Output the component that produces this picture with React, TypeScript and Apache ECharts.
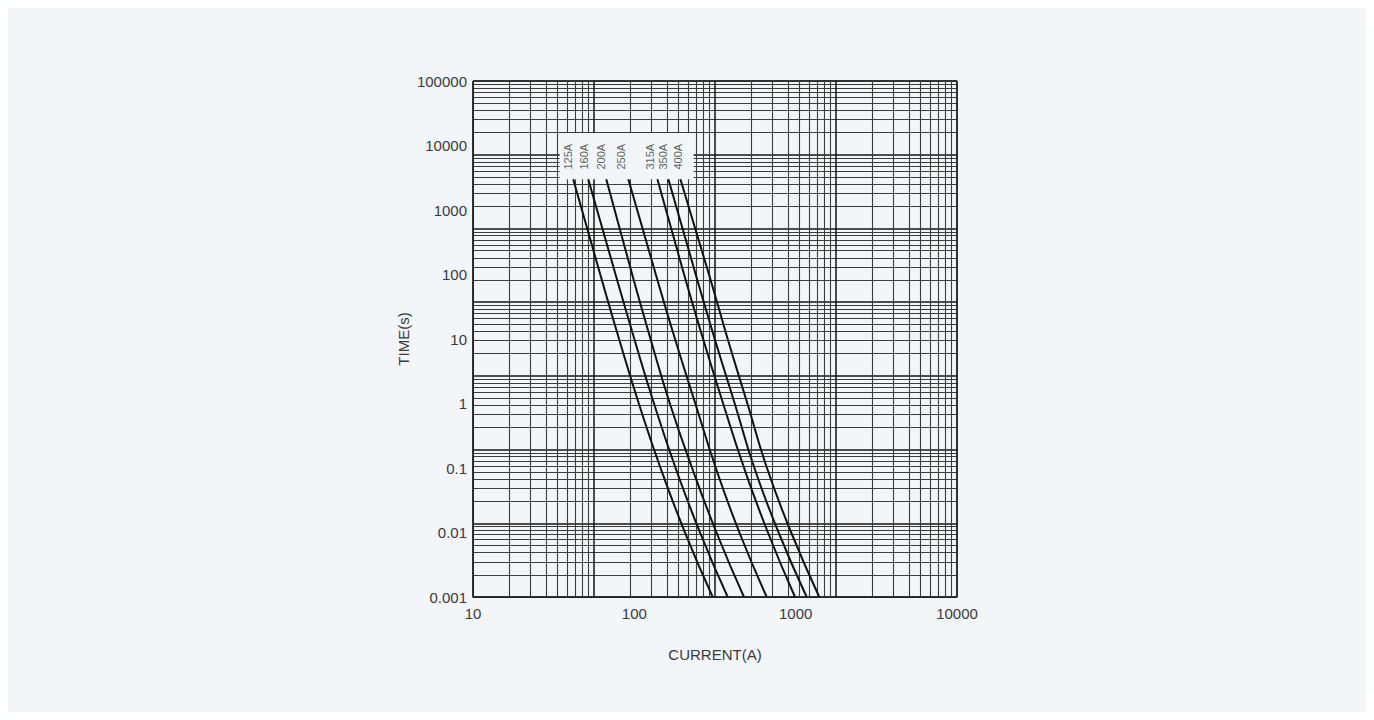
import React, { useEffect, useRef } from "react";
import * as echarts from "echarts";

// Tick labels of the labelled axes
const xTickLabels = ["10", "100", "1000", "10000"];
const yTickLabels = ["0.001", "0.01", "0.1", "1", "10", "100", "1000", "10000", "100000"];

// Curve labels
const curveLabels = ["125A", "160A", "200A", "250A", "315A", "350A", "400A"];

// Time values (s) at which each curve's current was read
const timePoints = [3000, 100, 10, 1, 0.1, 0.01, 0.001];

// Current values (A) of each curve at the time points above
const c125 = [41.8, 61.5, 80.4, 106.6, 145.3, 206.1, 306];
const c160 = [51.8, 76.5, 100, 132.4, 180.2, 255.3, 379];
const c200 = [67, 97, 126, 166, 228, 323, 478];
const c250 = [91.8, 135.9, 178.7, 238.8, 320, 448, 661.5];
const c315 = [139, 203.4, 266.9, 355, 479, 673, 990.6];
const c350 = [162.6, 240.2, 315, 419, 555, 784, 1170];
const c400 = [193, 290.3, 379, 502, 664, 938, 1401];
const curves = [c125, c160, c200, c250, c315, c350, c400];

// Label anchor points (current, time)
const labelCurrents = [38.97, 48.97, 62.8, 83.5, 125.1, 151.2, 187.3];
const labelTime = 4170;

// Label box corners (current, time)
const boxFrom = [34.5, 15600];
const boxTo = [233, 3000];

const BG = "#f3f6f9";
const FONT = "Liberation Sans, Arial, Helvetica, sans-serif";
const TXT = "#3a3a3a";

export default function App() {
  const ref = useRef<HTMLDivElement>(null);
  useEffect(() => {
    if (!ref.current) return;
    const chart = echarts.init(ref.current, undefined, { renderer: "svg" });
    const gridLine = { show: true, lineStyle: { color: "#151515", width: 1.5 } };
    const minorLine = { show: true, lineStyle: { color: "#3c3c3c", width: 1.1 } };
    const lineSeries = curves.map((c, i) => ({
      type: "line",
      name: curveLabels[i],
      xAxisIndex: 0,
      yAxisIndex: 0,
      data: c.map((v, j) => [v, timePoints[j]]),
      smooth: 0.5,
      symbol: "none",
      lineStyle: { color: "#111", width: 2 },
      z: 5,
      ...(i === 0
        ? {
            markArea: {
              silent: true,
              z: 3,
              itemStyle: { color: BG, opacity: 1 },
              data: [[{ coord: boxFrom }, { coord: boxTo }]],
            },
          }
        : {}),
    }));
    chart.setOption({
      animation: false,
      backgroundColor: BG,
      textStyle: { fontFamily: FONT },
      grid: {
        left: 465,
        top: 73,
        width: 484,
        height: 516,
        show: true,
        borderColor: "#222",
        borderWidth: 1,
        backgroundColor: "transparent",
      },
      xAxis: [
        {
          type: "log",
          logBase: 10,
          min: 10,
          max: 10000,
          interval: 1,
          name: "CURRENT(A)",
          nameLocation: "middle",
          nameGap: 50,
          nameTextStyle: { fontSize: 15, color: TXT, fontFamily: FONT },
          axisLine: { show: true, lineStyle: { color: "#222", width: 1 } },
          axisTick: { show: false },
          splitLine: { show: false },
          axisLabel: {
            fontSize: 15,
            color: TXT,
            margin: 9,
            fontFamily: FONT,
            formatter: (v: number) => xTickLabels[Math.round(Math.log10(v)) - 1] ?? "",
          },
        },
        {
          type: "log",
          logBase: 10,
          min: 1,
          max: 10000,
          interval: 1,
          axisLine: { show: false },
          axisTick: { show: false },
          axisLabel: { show: false },
          splitLine: gridLine,
          minorTick: { show: false, splitNumber: 9 },
          minorSplitLine: minorLine,
        },
      ],
      yAxis: [
        {
          type: "log",
          logBase: 10,
          min: 0.001,
          max: 100000,
          interval: 1,
          name: "TIME(s)",
          nameLocation: "middle",
          nameGap: 62,
          nameTextStyle: { fontSize: 15, color: TXT, fontFamily: FONT },
          axisLine: { show: true, lineStyle: { color: "#222", width: 1 } },
          axisTick: { show: false },
          splitLine: { show: false },
          axisLabel: {
            fontSize: 15,
            color: TXT,
            margin: 6,
            fontFamily: FONT,
            formatter: (v: number) => yTickLabels[Math.round(Math.log10(v)) + 3] ?? "",
          },
        },
        {
          type: "log",
          logBase: 10,
          min: 1,
          max: 10000000,
          interval: 1,
          axisLine: { show: false },
          axisTick: { show: false },
          axisLabel: { show: false },
          splitLine: gridLine,
          minorTick: { show: false, splitNumber: 9 },
          minorSplitLine: minorLine,
        },
      ],
      series: [
        ...lineSeries,
        {
          type: "scatter",
          xAxisIndex: 0,
          yAxisIndex: 0,
          symbolSize: 1,
          itemStyle: { color: "transparent" },
          z: 6,
          data: labelCurrents.map((c, i) => ({ value: [c, labelTime], name: curveLabels[i] })),
          label: {
            show: true,
            formatter: "{b}",
            position: [0, 0],
            rotate: 90,
            align: "left",
            verticalAlign: "middle",
            fontSize: 11,
            color: "#333",
            fontFamily: FONT,
          },
        },
      ],
    });
    return () => chart.dispose();
  }, []);
  return <div ref={ref} style={{ width: "100%", height: 704 }} />;
}
